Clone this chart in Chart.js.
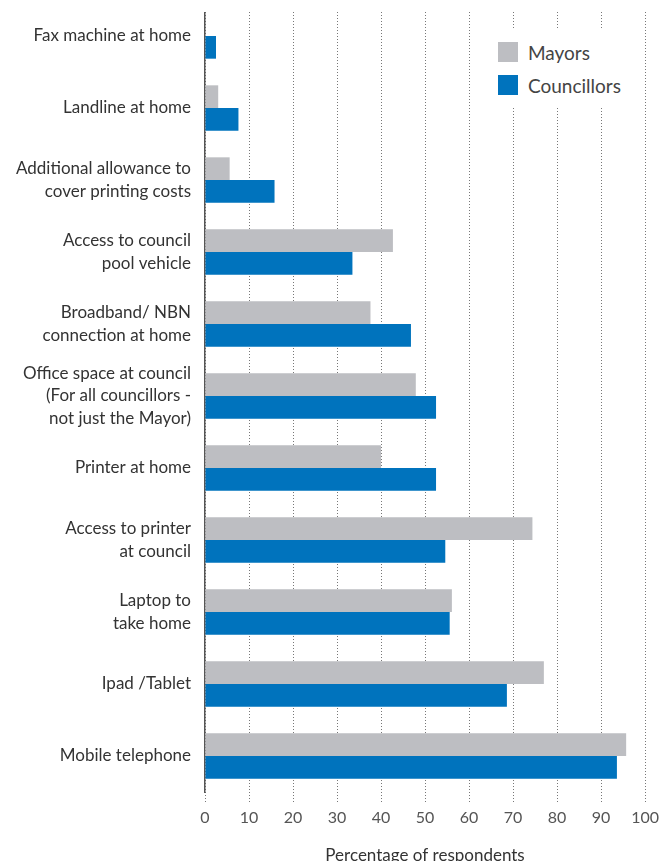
<!DOCTYPE html>
<html>
<head>
<meta charset="utf-8">
<script src="https://cdn.jsdelivr.net/npm/chart.js@4.4.1/dist/chart.umd.min.js"></script>
<style>
  html, body { margin: 0; padding: 0; background: #fff; overflow: hidden; }
  #wrap { position: relative; width: 665px; height: 880px; }
  #legend {
    position: absolute; left: 482px; top: 30px; width: 162px; height: 78px;
    background: #fff; font-family: Lato, sans-serif; font-size: 19px; color: #444;
  }
  #legend div { position: absolute; left: 16px; height: 21px; line-height: 21px; }
  #legend span { display: inline-block; width: 20px; height: 20px; vertical-align: top; margin-right: 10px; }
</style>
</head>
<body>
<div id="wrap">
  <canvas id="chart"></canvas>
  <div id="legend">
    <div style="top:12px"><span style="background:#bdbec2"></span>Mayors</div>
    <div style="top:45px"><span style="background:#0073bd"></span>Councillors</div>
  </div>
</div>
<script>
const categories = [
  'Fax machine at home',
  'Landline at home',
  ['Additional allowance to', 'cover printing costs'],
  ['Access to council', 'pool vehicle'],
  ['Broadband/ NBN', 'connection at home'],
  ['Office space at council', '(For all councillors -', 'not just the Mayor)'],
  'Printer at home',
  ['Access to printer', 'at council'],
  ['Laptop to', 'take home'],
  'Ipad /Tablet',
  'Mobile telephone'
];
const mayors = [0, 3, 5.6, 42.7, 37.6, 47.9, 40, 74.4, 56.1, 77, 95.7];
const councillors = [2.5, 7.6, 15.8, 33.5, 46.8, 52.5, 52.5, 54.6, 55.6, 68.6, 93.6];
const xTicks = [0, 10, 20, 30, 40, 50, 60, 70, 80, 90, 100];

// hide the top strip so grid starts a bit below the plot top
const topMask = {
  id: 'topMask',
  afterDraw(chart) {
    const c = chart.ctx;
    c.save();
    c.fillStyle = '#fff';
    c.fillRect(0, 0, chart.width, 12);
    c.restore();
  }
};

const ctx = document.getElementById('chart').getContext('2d');
new Chart(ctx, {
  type: 'bar',
  data: {
    labels: categories,
    datasets: [{
      label: 'Mayors',
      data: mayors,
      backgroundColor: '#bdbec2',
      borderWidth: 0
    }, {
      label: 'Councillors',
      data: councillors,
      backgroundColor: '#0073bd',
      borderWidth: 0
    }]
  },
  options: {
    indexAxis: 'y',
    responsive: true,
    maintainAspectRatio: false,
    animation: false,
    layout: { padding: { top: -4, right: 2, left: 0, bottom: 0 } },
    barPercentage: 1,
    categoryPercentage: 0.63,
    plugins: { legend: { display: false }, tooltip: { enabled: false } },
    scales: {
      x: {
        min: 0,
        max: 100,
        afterBuildTicks: s => { s.ticks = xTicks.map(v => ({ value: v })); },
        afterFit: s => { s.height = 88; },
        grid: { color: '#777', lineWidth: 1, drawTicks: true, tickLength: 10, tickBorderDash: [1, 2] },
        border: { display: false, dash: [1, 2] },
        ticks: { color: '#555', font: { family: 'Lato', size: 16 }, padding: 6 },
        title: {
          display: true,
          text: 'Percentage of respondents',
          color: '#333',
          font: { family: 'Lato', size: 17 },
          padding: { top: 0, bottom: 14 }
        }
      },
      y: {
        afterFit: s => { s.width = 205; s.paddingTop = 0; s.paddingBottom = 0; },
        grid: { display: false, drawTicks: false },
        border: { display: true, color: '#555', width: 1.5 },
        ticks: { color: '#333', autoSkip: false, font: { family: 'Lato', size: 17, lineHeight: 1.35 }, padding: 14 }
      }
    }
  },
  plugins: [topMask]
});
</script>
</body>
</html>
